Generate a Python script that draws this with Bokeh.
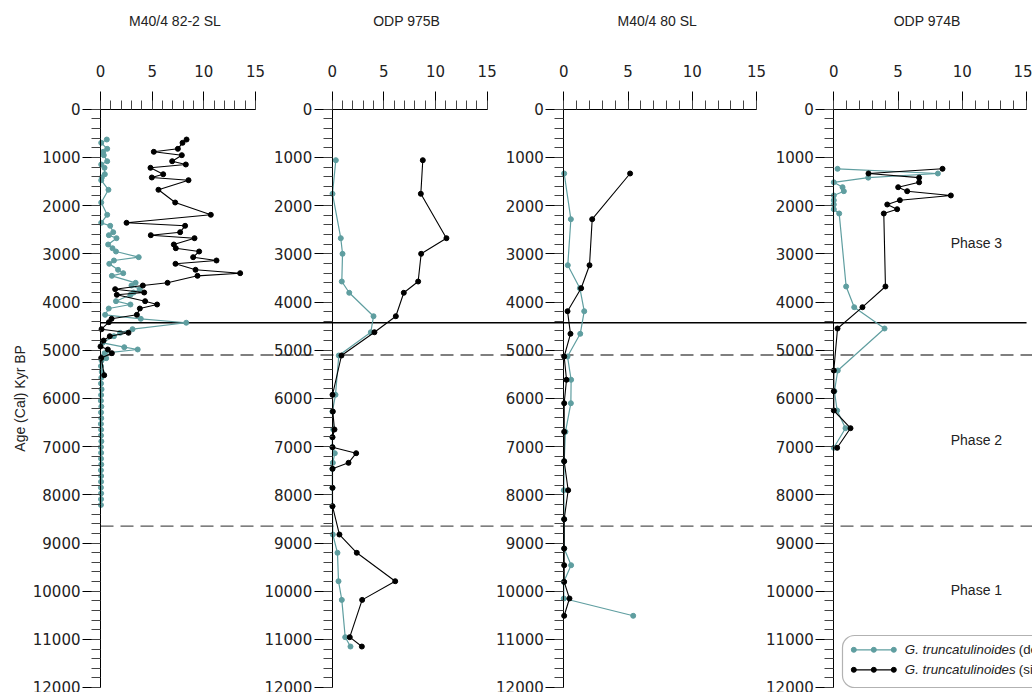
import math

from bokeh.core.properties import value
from bokeh.embed import file_html
from bokeh.models import BoxAnnotation, LinearAxis, Range1d, SingleIntervalTicker
from bokeh.plotting import figure
from bokeh.resources import INLINE

# ---------------------------------------------------------------------------
# Data: relative abundance (%) of G. truncatulinoides coiling types by age
# ---------------------------------------------------------------------------
cores = ["M40/4 82-2 SL", "ODP 975B", "M40/4 80 SL", "ODP 974B"]

# M40/4 82-2 SL
m82_age_sin = [629, 698, 822, 884, 954, 1079, 1147, 1216, 1349, 1417, 1473, 1672,
               1936, 2191, 2357, 2419, 2552, 2614, 2676, 2807, 2884, 2952, 3070, 3139,
               3208, 3332, 3402, 3457, 3602, 3658, 3734, 3803, 3851, 3983, 4052, 4135,
               4266, 4349, 4419, 4564, 4639, 4710, 4800, 4923, 4985, 5062, 5160, 5518]
m82_sin = [8.33, 7.94, 7.49, 5.16, 7.87, 6.94, 8.26, 4.84, 6.07, 4.97, 8.52, 5.61,
           7.23, 10.68, 2.52, 8.19, 7.71, 4.87, 9.10, 7.10, 7.29, 9.55, 8.97, 11.23,
           7.26, 9.20, 13.52, 9.39, 6.49, 4.10, 1.42, 4.23, 1.58, 4.32, 5.48, 3.81,
           3.52, 1.07, 0.81, 0.10, 2.71, 0.90, 0.30, 0.00, 0.71, 1.10, 0.07, 0.36]
m82_age_dex = [629, 698, 822, 884, 954, 1079, 1147, 1216, 1349, 1417, 1473, 1672,
               1936, 2191, 2357, 2419, 2552, 2614, 2676, 2807, 2884, 2952, 3070, 3139,
               3208, 3332, 3402, 3457, 3602, 3658, 3734, 3803, 3851, 3983, 4052, 4135,
               4266, 4349, 4430, 4564, 4639, 4710, 4847, 4938, 4985, 5062, 5166, 5213,
               5330, 5450, 5570, 5690, 5810, 5930, 6050, 6170, 6290, 6410, 6530, 6650,
               6770, 6890, 7010, 7130, 7250, 7370, 7490, 7610, 7730, 7850, 7970, 8090,
               8210]
m82_dex = [0.61, 0.07, 0.65, 0.26, 0.32, 0.65, 0.07, 0.39, 0.42, 0.13, 0.07, 0.77,
           0.07, 0.65, 0.07, 0.94, 1.23, 0.81, 1.55, 0.74, 1.16, 1.50, 3.70, 1.30,
           0.85, 1.70, 2.20, 1.10, 3.40, 3.00, 3.80, 3.20, 2.90, 1.50, 2.90, 0.80,
           0.45, 3.90, 8.30, 3.10, 1.90, 1.30, 0.20, 2.30, 3.60, 0.40, 0.55, 0.10,
           0.05, 0.12, 0.08, 0.05, 0.10, 0.06, 0.04, 0.08, 0.05, 0.07, 0.04, 0.06,
           0.05, 0.08, 0.04, 0.06, 0.05, 0.07, 0.04, 0.06, 0.05, 0.04, 0.06, 0.05,
           0.04]

# ODP 975B
odp975_age = [1058, 1755, 2676, 3000, 3575, 3809, 4295, 4627, 5110, 5925, 6272, 6645,
              6805, 7012, 7137, 7337, 7461, 7855, 8237, 8824, 9203, 9793, 10180, 10954,
              11148]
odp975_sin = [8.77, 8.58, 11.06, 8.61, 8.32, 6.93, 6.16, 4.09, 0.90, 0.03, 0.06, 0.22,
              0.03, 0.03, 2.32, 1.58, 0.03, 0.03, 0.03, 0.70, 2.38, 6.10, 2.90, 1.70,
              2.87]
odp975_dex = [0.35, 0.03, 0.83, 1.00, 0.93, 1.65, 4.00, 3.74, 0.64, 0.32, 0.02, 0.10,
              0.02, 0.02, 0.25, 0.06, 0.02, 0.02, 0.02, 0.06, 0.51, 0.61, 0.93, 1.26,
              1.77]

# M40/4 80 SL
m80_age = [1334, 2282, 3237, 3714, 4191, 4660, 5131, 5614, 6100, 6693, 7303, 7905,
           8506, 9114, 9461, 9806, 10151, 10510]
m80_sin = [5.16, 2.21, 2.00, 1.35, 0.29, 0.52, 0.03, 0.21, 0.03, 0.03, 0.03, 0.34,
           0.03, 0.03, 0.03, 0.03, 0.44, 0.03]
m80_dex = [0.03, 0.55, 0.31, 1.25, 1.59, 1.28, 0.29, 0.57, 0.55, 0.13, 0.03, 0.00,
           0.03, 0.03, 0.57, 0.00, 0.00, 5.40]

# ODP 974B
odp974_age = [1237, 1334, 1420, 1517, 1618, 1701, 1790, 1888, 1977, 2075, 2164, 3678,
              4108, 4550, 5421, 5851, 6251, 6618, 7025]
odp974_sin = [8.46, 2.70, 6.64, 6.64, 5.01, 5.71, 9.11, 5.14, 4.16, 4.93, 3.89, 4.02,
              2.23, 0.29, 0.00, 0.00, 0.00, 1.30, 0.26]
odp974_dex = [0.29, 8.10, 2.68, 0.00, 0.68, 0.78, 0.00, 0.00, 0.00, 0.00, 0.42, 0.96,
              1.59, 3.95, 0.31, 0.05, 0.26, 0.91, 0.00]

series_age_dex = [m82_age_dex, odp975_age, m80_age, odp974_age]
series_dex = [m82_dex, odp975_dex, m80_dex, odp974_dex]
series_age_sin = [m82_age_sin, odp975_age, m80_age, odp974_age]
series_sin = [m82_sin, odp975_sin, m80_sin, odp974_sin]

# Phase boundaries and labels
boundary_solid = [4430]
boundary_dashed = [5100, 8650]
phase_names = ["Phase 3", "Phase 2", "Phase 1"]
phase_label_age = [2770, 6860, 9970]
phase_label_value = 11.1

legend_species = "G. truncatulinoides"
legend_types = ["(dextral)", "(sinistral)"]

AGE_MAX = 12000
VALUE_MAX = 15

# ---------------------------------------------------------------------------
# Layout (pixels)
# ---------------------------------------------------------------------------
W, H = 1032, 692
AGE0_PX = 108.7          # pixel row of age 0
PX_PER_YEAR = 0.0482     # vertical scale
PANEL_X0 = [100.0, 331.7, 563.3, 833.3]   # pixel column of value 0 per panel
PANEL_SCALE = [10.33, 10.33, 12.85, 12.85]  # pixels per % per panel
RANGE_NAMES = ["default", "p1", "p2", "p3"]

DEX_COLOR = "#5f9ea0"
SIN_COLOR = "#000000"
FONT = "Liberation Sans"
TICK_FONT = "DejaVu Sans"


def px_to_age(py):
    return (py - AGE0_PX) / PX_PER_YEAR


def px_to_x(px, k):
    return (px - PANEL_X0[k]) / PANEL_SCALE[k]


x_ranges = [Range1d(start=px_to_x(0, k), end=px_to_x(W, k)) for k in range(4)]
y_range = Range1d(start=px_to_age(H), end=px_to_age(0))

p = figure(width=W, height=H, x_range=x_ranges[0], y_range=y_range,
           x_axis_location=None, y_axis_location=None,
           toolbar_location=None, output_backend="svg",
           min_border=0, outline_line_color=None)
p.extra_x_ranges = {RANGE_NAMES[k]: x_ranges[k] for k in range(1, 4)}
p.grid.visible = False
p.background_fill_color = "white"
p.border_fill_color = "white"


def style_axis(ax, label_size):
    ax.axis_line_color = "black"
    ax.axis_line_width = 1
    ax.major_tick_line_color = "black"
    ax.minor_tick_line_color = "#444444"
    ax.major_tick_in = 0
    ax.minor_tick_in = 0
    ax.major_tick_out = 18
    ax.minor_tick_out = 9
    ax.major_label_text_font = TICK_FONT
    ax.major_label_text_font_size = label_size
    ax.major_label_text_color = "#222222"


# Panel axes: age axis on the left of each panel, abundance axis on top
for k in range(4):
    yax = LinearAxis(x_range_name=RANGE_NAMES[k], fixed_location=0,
                     bounds=(0, AGE_MAX),
                     ticker=SingleIntervalTicker(interval=1000, num_minor_ticks=5))
    style_axis(yax, "15px")
    yax.major_label_standoff = 2
    p.add_layout(yax, "left")

    xax = LinearAxis(x_range_name=RANGE_NAMES[k], fixed_location=0,
                     bounds=(0, VALUE_MAX),
                     ticker=SingleIntervalTicker(interval=5, num_minor_ticks=5))
    style_axis(xax, "15px")
    xax.major_label_standoff = 14
    p.add_layout(xax, "above")

# Phase boundary lines across all panels
x_start = 0
x_end_solid = px_to_x(PANEL_X0[3] + VALUE_MAX * PANEL_SCALE[3], 0)
x_end_dashed = px_to_x(W, 0)
p.segment(x0=[x_start] * len(boundary_solid), x1=[x_end_solid] * len(boundary_solid),
          y0=boundary_solid, y1=boundary_solid, line_color="black", line_width=1.3)
p.segment(x0=[x_start] * len(boundary_dashed), x1=[x_end_dashed] * len(boundary_dashed),
          y0=boundary_dashed, y1=boundary_dashed, line_color="#555555",
          line_width=1.3, line_dash="13 7")

# Records
for k in range(4):
    rn = RANGE_NAMES[k]
    p.line(series_dex[k], series_age_dex[k], x_range_name=rn,
           line_color=DEX_COLOR, line_width=1.2)
    p.scatter(series_dex[k], series_age_dex[k], x_range_name=rn, size=5,
              fill_color=DEX_COLOR, line_color=DEX_COLOR)
    p.line(series_sin[k], series_age_sin[k], x_range_name=rn,
           line_color=SIN_COLOR, line_width=1.1)
    p.scatter(series_sin[k], series_age_sin[k], x_range_name=rn, size=5,
              fill_color=SIN_COLOR, line_color=SIN_COLOR)

    # core name above each panel
    p.text(x=[VALUE_MAX / 2], y=[px_to_age(20.7)], text=[cores[k]], x_range_name=rn,
           x_offset=-3, text_align="center", text_baseline="middle",
           text_font=value(FONT), text_font_size="14px", text_color="#222222")

# Phase labels
p.text(x=[phase_label_value] * len(phase_names), y=phase_label_age, text=phase_names,
       x_range_name="p3", text_align="center", text_baseline="middle",
       text_font=value(FONT), text_font_size="14px", text_color="#222222")

# Age axis title
p.text(x=[px_to_x(19, 0)], y=[AGE_MAX / 2], text=["Age (Cal) Kyr BP"], angle=math.pi / 2,
       text_align="center", text_baseline="middle",
       text_font=value(FONT), text_font_size="14px", text_color="#222222")

# Legend (bottom right of the last panel)
LEG_LEFT, LEG_RIGHT, LEG_TOP, LEG_BOTTOM = 842, 1050, 635, 687
LEG_ROWS = [649.3, 669.3]
LEG_SAMPLE = [853.3, 873.3, 893.3]
LEG_TEXT = 904.3
LEG_TYPE_TEXT = 1018.3

p.add_layout(BoxAnnotation(x_range_name="p3",
                           left=px_to_x(LEG_LEFT, 3), right=px_to_x(LEG_RIGHT, 3),
                           top=px_to_age(LEG_TOP), bottom=px_to_age(LEG_BOTTOM),
                           fill_color="white", fill_alpha=1, line_color="black",
                           line_width=1.2, border_radius=12))

sample_x = [px_to_x(v, 3) for v in LEG_SAMPLE]
for row, color, kind in zip(LEG_ROWS, [DEX_COLOR, SIN_COLOR], legend_types):
    ry = px_to_age(row)
    p.line(sample_x, [ry] * len(sample_x), x_range_name="p3",
           line_color=color, line_width=1.2, level="overlay")
    p.scatter(sample_x, [ry] * len(sample_x), x_range_name="p3", size=5,
              fill_color=color, line_color=color, level="overlay")
    p.text(x=[px_to_x(LEG_TEXT, 3)], y=[ry], text=[legend_species], x_range_name="p3",
           text_align="left", text_baseline="middle", text_font=value(FONT),
           text_font_style="italic", text_font_size="13.3px", text_color="#222222",
           level="overlay")
    p.text(x=[px_to_x(LEG_TYPE_TEXT, 3)], y=[ry], text=[kind], x_range_name="p3",
           text_align="left", text_baseline="middle", text_font=value(FONT),
           text_font_size="13.3px", text_color="#222222", level="overlay")

open("out.html", "w").write(file_html(p, INLINE))
